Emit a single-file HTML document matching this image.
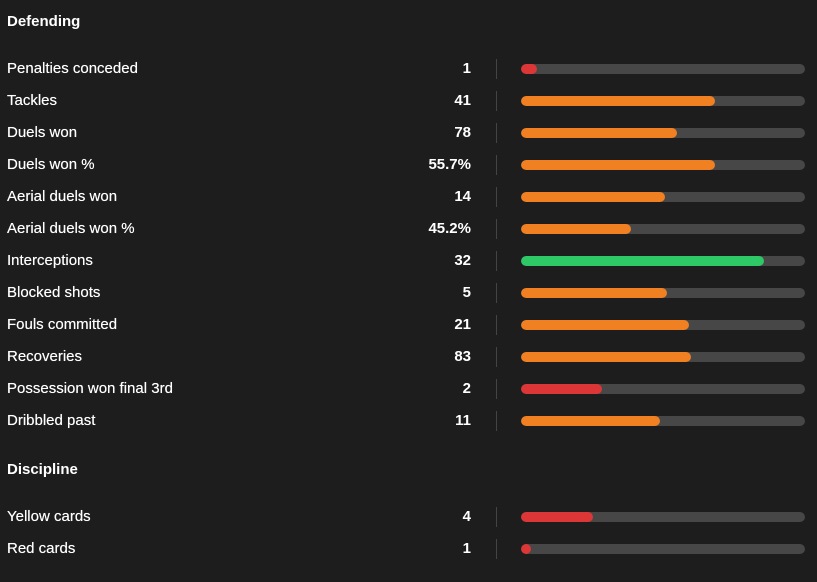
<!DOCTYPE html><html><head><style>
body{margin:0;width:817px;height:582px;background:#1d1d1d;font-family:"Liberation Sans",sans-serif;color:#fff;position:relative;overflow:hidden}
.t{position:absolute;font-size:15px;font-weight:bold;line-height:18px}
.l{position:absolute;left:7px;font-size:15px;line-height:18px;text-shadow:0 0 0.4px #fff}
.n{position:absolute;right:346px;font-size:15px;font-weight:bold;line-height:18px;text-align:right}
.s{position:absolute;left:496px;width:1px;height:20px;background:#444}
.b{position:absolute;left:521px;width:284px;height:10px;border-radius:5px;background:#474747;overflow:hidden}
.b i{display:block;height:10px;border-radius:5px}
</style></head><body>
<div class="t" style="left:7px;top:13px">Defending</div>
<div class="t" style="left:7px;top:461px">Discipline</div>
<div id="c"></div>
<script>
var d=[["Penalties conceded","1",537,"#dd3636",69],["Tackles","41",715,"#f08022",101],["Duels won","78",677,"#f08022",133],["Duels won %","55.7%",715,"#f08022",165],["Aerial duels won","14",665,"#f08022",197],["Aerial duels won %","45.2%",631,"#f08022",229],["Interceptions","32",764,"#2ec866",261],["Blocked shots","5",667,"#f08022",293],["Fouls committed","21",689,"#f08022",325],["Recoveries","83",691,"#f08022",357],["Possession won final 3rd","2",602,"#dd3636",389],["Dribbled past","11",660,"#f08022",421],["Yellow cards","4",593,"#dd3636",517],["Red cards","1",531,"#dd3636",549]];
var h="";d.forEach(function(r){var y=r[4];
h+='<div class="l" style="top:'+(y-9)+'px">'+r[0]+'</div><div class="n" style="top:'+(y-9)+'px">'+r[1]+'</div><div class="s" style="top:'+(y-10)+'px"></div><div class="b" style="top:'+(y-5)+'px"><i style="width:'+(r[2]-521)+'px;background:'+r[3]+'"></i></div>';});
document.getElementById("c").innerHTML=h;
</script>
</body></html>
